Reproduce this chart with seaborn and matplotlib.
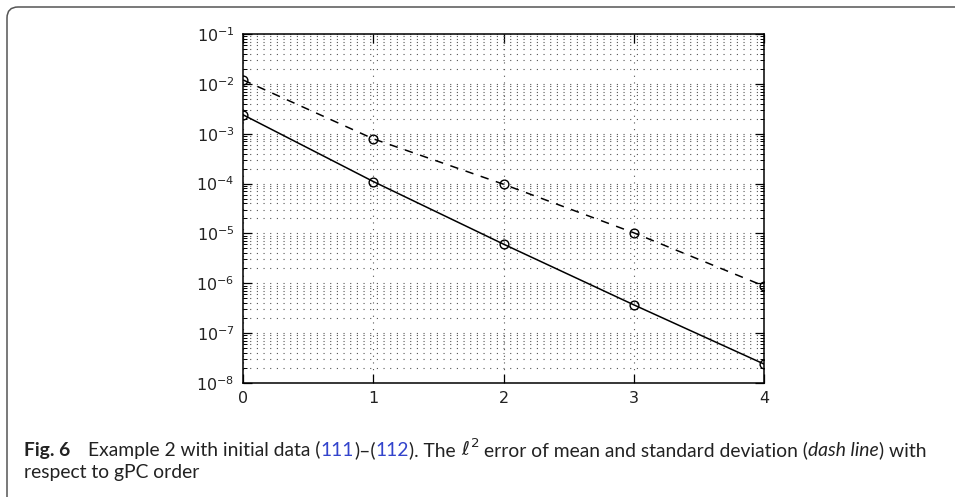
import matplotlib
matplotlib.use("Agg")
import numpy as np
import pandas as pd
import seaborn as sns
import matplotlib.pyplot as plt
from matplotlib.patches import FancyBboxPatch
from matplotlib import font_manager as fm
from matplotlib.font_manager import FontProperties
from matplotlib.ticker import LogLocator, FixedLocator, NullFormatter

# ---------------- data ----------------
gpc_order = [0, 1, 2, 3, 4]
mean_error = [2.4e-3, 1.1e-4, 6.1e-6, 3.7e-7, 2.4e-8]
std_error = [1.2e-2, 7.9e-4, 9.7e-5, 1.03e-5, 8.8e-7]
x_ticks = [0, 1, 2, 3, 4]

sns.set_style("ticks")
plt.rcParams["font.family"] = ["DejaVu Sans"]
plt.rcParams["axes.unicode_minus"] = False

W, H = 955, 497
fig = plt.figure(figsize=(W / 100, H / 100), dpi=100)

# rounded frame around the figure + caption (right/bottom run off the page)
frame = FancyBboxPatch((0.07, -0.12), (W + 30) / 100, (H + 5) / 100,
                       boxstyle="round,pad=0,rounding_size=0.11",
                       transform=fig.dpi_scale_trans, fill=False,
                       edgecolor="#555555", linewidth=1.1, clip_on=False)
fig.patches.append(frame)

L, R, T, B = 243, 764, 34, 383
ax = fig.add_axes([L / W, 1 - B / H, (R - L) / W, (B - T) / H])

df = pd.DataFrame({"order": gpc_order, "mean": mean_error, "std": std_error})
mk = dict(marker="o", markersize=6.3, markerfacecolor="none",
          markeredgecolor="black", markeredgewidth=1.0)
sns.lineplot(data=df, x="order", y="mean", ax=ax, color="black", lw=1.1, **mk)
sns.lineplot(data=df, x="order", y="std", ax=ax, color="black", lw=1.1,
             linestyle=(0, (5.5, 5.0)), **mk)

ax.set_yscale("log")
ax.set_xlim(0, 4)
ax.set_ylim(1e-8, 1e-1)
ax.xaxis.set_major_locator(FixedLocator(x_ticks))
ax.set_xticklabels([str(t) for t in x_ticks])
ax.yaxis.set_major_locator(LogLocator(base=10, numticks=20))
ax.yaxis.set_minor_locator(LogLocator(base=10, subs=np.arange(2, 10), numticks=100))
ax.yaxis.set_minor_formatter(NullFormatter())
ax.set_xlabel("")
ax.set_ylabel("")

for s in ax.spines.values():
    s.set_visible(True)
    s.set_linewidth(1.1)
    s.set_color("black")

ax.tick_params(which="both", direction="in", top=True, right=True,
               colors="black", labelsize=11.5)
ax.tick_params(which="major", length=6.5, width=0.9)
ax.tick_params(which="minor", length=3.0, width=0.7, labelleft=False,
               labelbottom=False)
ax.tick_params(axis="y", which="major", pad=6)
ax.tick_params(axis="x", which="major", pad=6)
for lab in ax.get_xticklabels() + ax.get_yticklabels():
    lab.set_color("#222222")

grid_kw = dict(color="#555555", linestyle=(0, (1, 5.0)), linewidth=0.8)
ax.grid(True, which="major", axis="both", **grid_kw)
ax.grid(True, which="minor", axis="y", **grid_kw)
ax.set_axisbelow(True)

# ---------------- caption ----------------
def pick(names):
    for n in names:
        try:
            fm.findfont(FontProperties(family=n), fallback_to_default=False)
            return n
        except Exception:
            pass
    return "DejaVu Sans"

cap_font = pick(["Lato", "Open Sans", "Noto Sans"])
blue = "#3344cc"
txtc = "#222222"

line1 = [
    ("Fig. 6", dict(weight="bold"), 18),
    ("Example 2 with initial data (", {}, 0),
    ("111", dict(color=blue), 0),
    (")–(", {}, 0),
    ("112", dict(color=blue), 0),
    ("). The", {}, 4),
    (r"$\ell^{2}$", dict(family=["DejaVu Sans"]), 4),
    ("error of mean and standard deviation (", {}, 0),
    ("dash line", dict(style="italic"), 0),
    (") with", {}, 0),
]
line2 = [("respect to gPC order", {}, 0)]

fig.canvas.draw()
renderer = fig.canvas.get_renderer()


def piece_props(kw, size):
    return FontProperties(family=kw.get("family", [cap_font, "DejaVu Sans"]),
                          weight=kw.get("weight", "normal"),
                          style=kw.get("style", "normal"), size=size)


def measure(pieces, size, space_px):
    x = 0.0
    for i, (txt, kw, gap) in enumerate(pieces):
        prop = piece_props(kw, size)
        w, h, d = renderer.get_text_width_height_descent(
            txt, prop, ismath=txt.startswith("$"))
        x += w
        if gap:
            x += gap if i == 0 else space_px
    return x


def place(pieces, x0, yb, size, space_px):
    x = x0
    for i, (txt, kw, gap) in enumerate(pieces):
        kws = dict(color=txtc, family=[cap_font, "DejaVu Sans"])
        kws.update(kw)
        t = fig.text(x / W, 1 - yb / H, txt, fontsize=size, ha="left",
                     va="baseline", **kws)
        x += t.get_window_extent(renderer).width
        if gap:
            x += gap if i == 0 else space_px


size = 13.0
target = 928 - 24
for _ in range(4):
    w = measure(line1, size, size * 1.389 * 0.26)
    size *= target / w

place(line1, 24, 456.0, size, size * 1.389 * 0.26)
place(line2, 24, 478.0, size, size * 1.389 * 0.26)

fig.savefig("out.png", dpi=100)
